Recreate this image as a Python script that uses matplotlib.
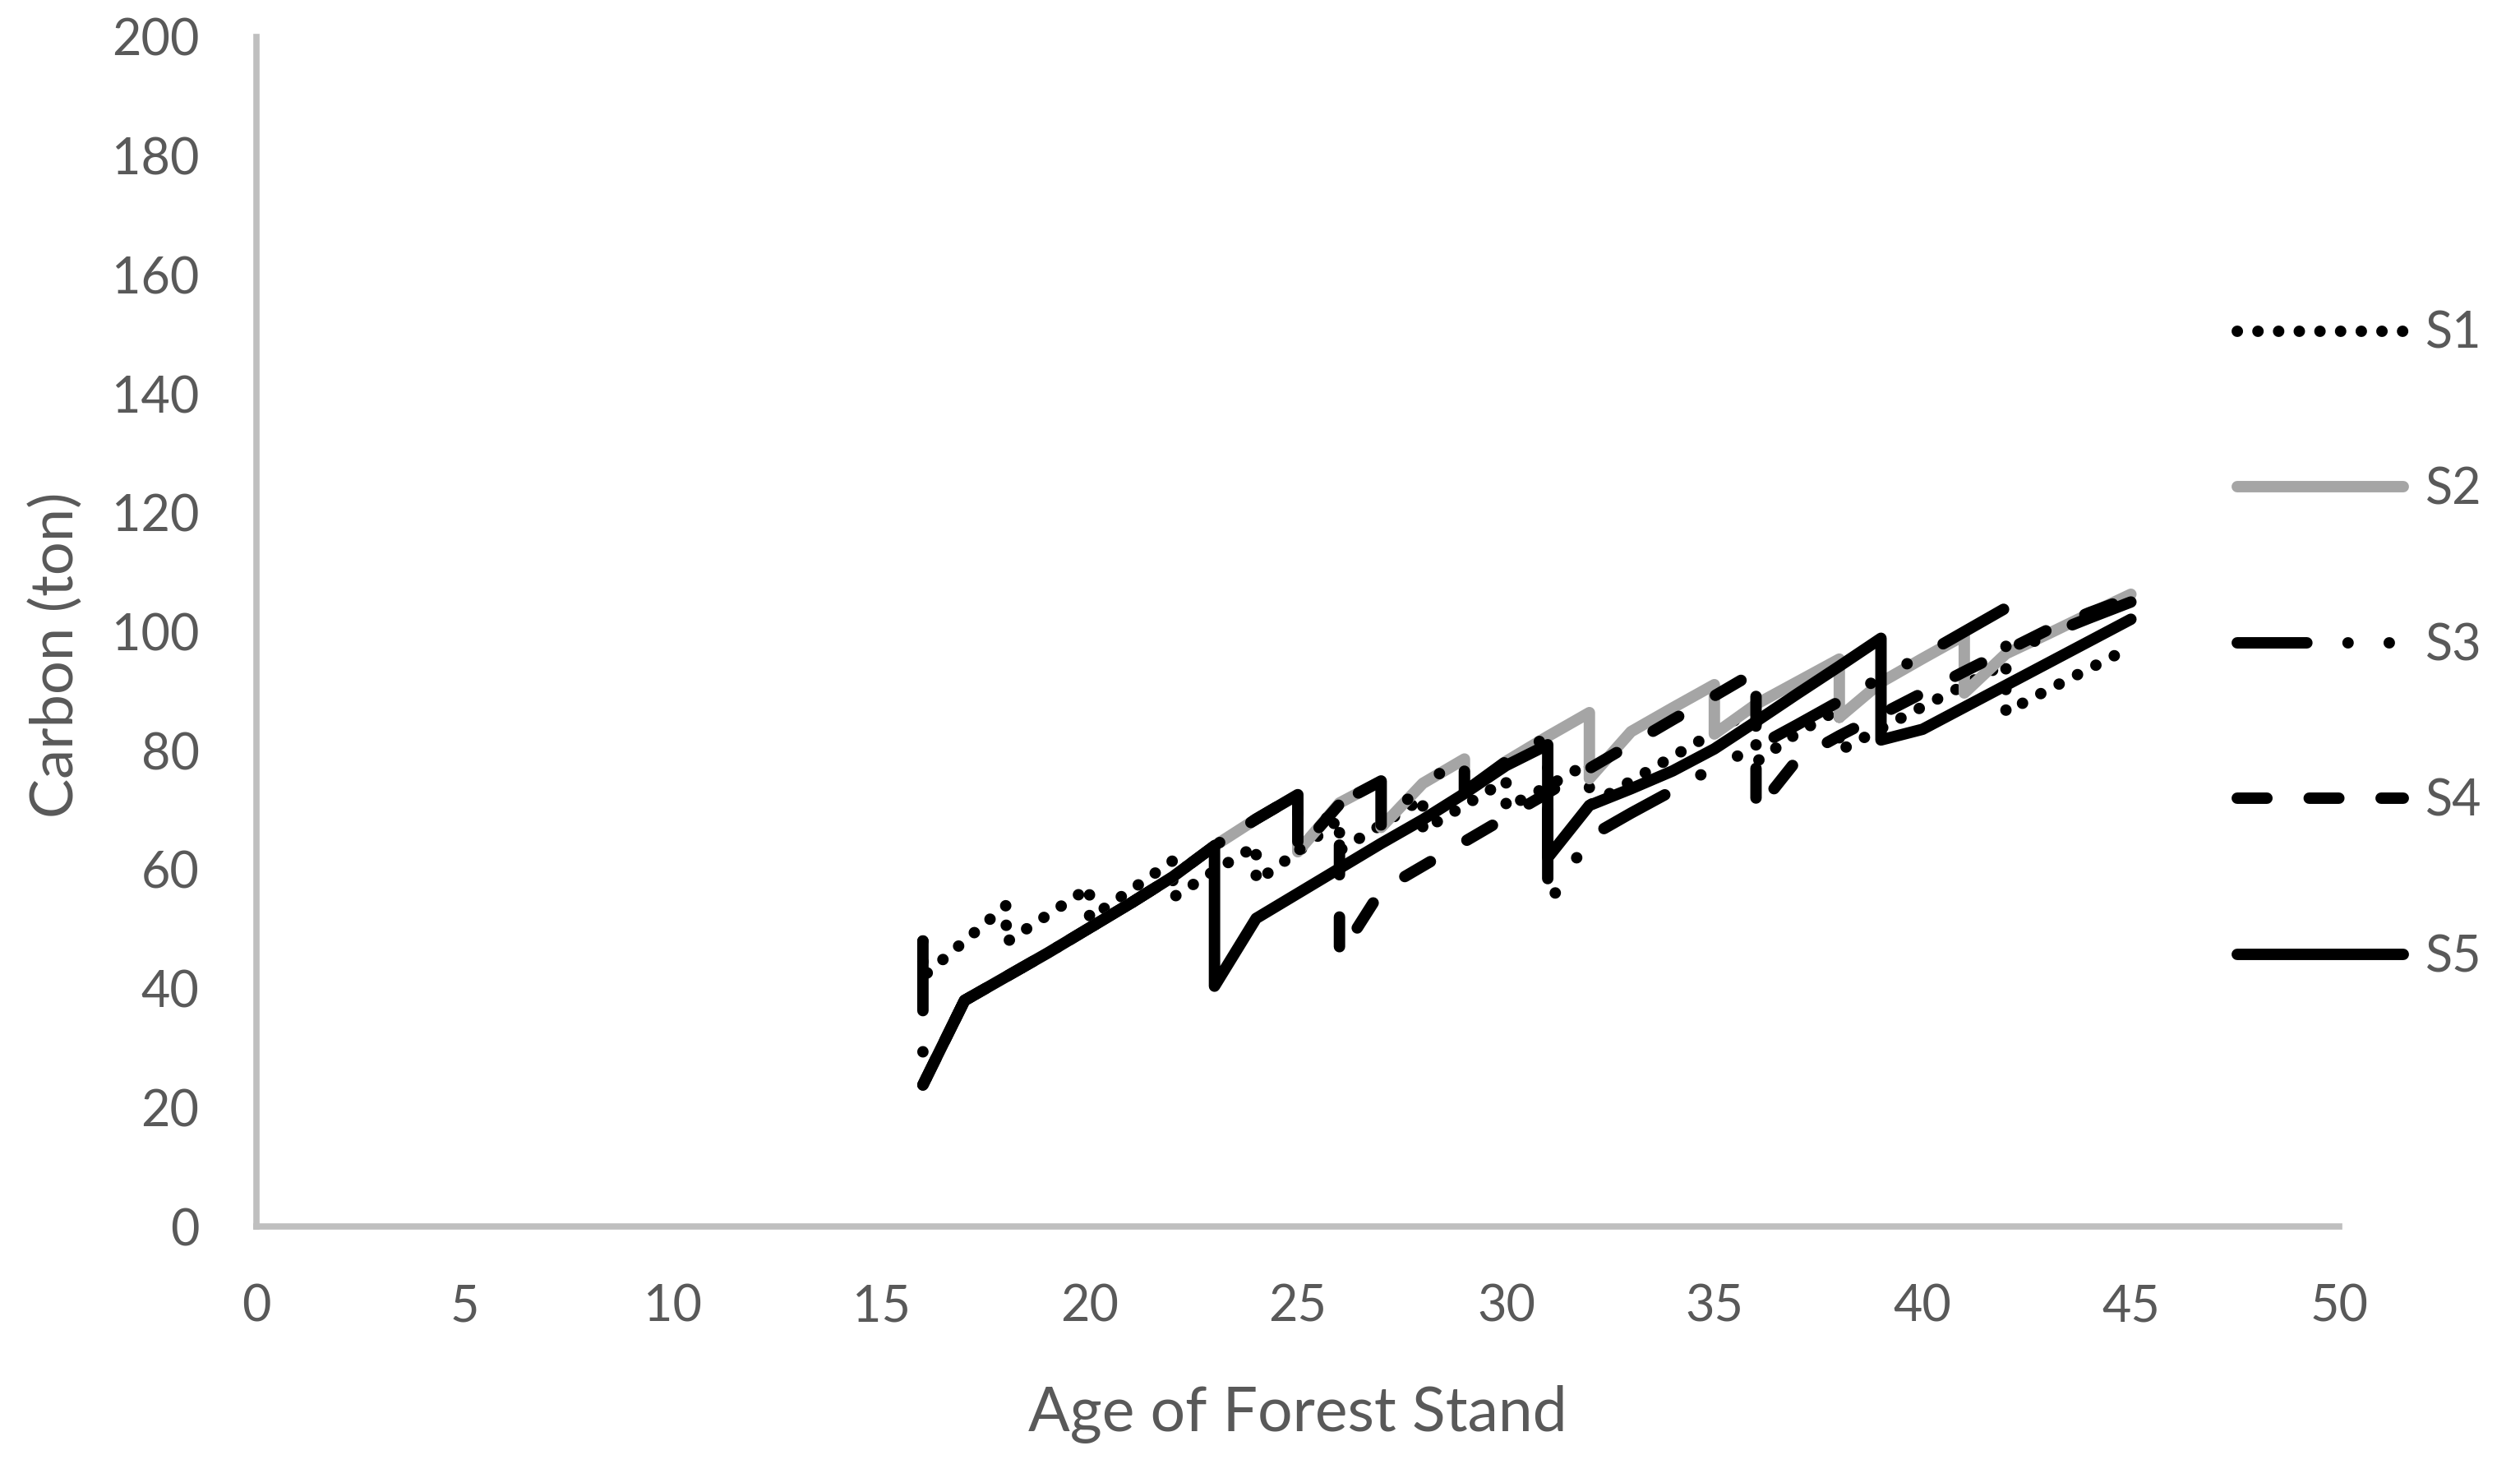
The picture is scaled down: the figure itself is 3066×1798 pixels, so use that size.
import matplotlib
matplotlib.use("Agg")
import matplotlib.pyplot as plt

plt.rcParams["font.family"] = ["Lato", "DejaVu Sans"]

# scenario series: repeated ages mark a thinning (vertical drop)
s1_age = [16, 16, 17, 18, 18, 19, 20, 20, 21, 22, 22, 23, 24, 24, 25, 26, 26, 27, 28, 28, 29, 30, 30,
          31, 32, 32, 33, 34, 35, 36, 36, 37, 38, 38, 39, 40, 41, 42, 42, 43, 44, 45]
s1_c = [48, 42, 48, 54, 47.8, 52.4, 57, 51.8, 56.6, 61.5, 55.3, 59.8, 64, 58, 63, 68.5, 63.2, 67.5, 72, 66.6,
        70.8, 75, 70.4, 74, 78, 70.8, 74.9, 79, 83.1, 87.2, 78.1, 83, 87, 80, 83.7, 87.4, 91, 94.7, 86.5,
        90.2, 93.8, 97.4]

s2_age = [16, 17, 18, 19, 20, 21, 22, 23, 24, 25, 25, 26, 27, 27, 28, 29, 29, 30, 31, 32, 32, 33, 34,
          35, 35, 36, 37, 38, 38, 39, 40, 41, 41, 42, 43, 44, 45]
s2_c = [23.8, 38, 42, 46, 50.2, 54.4, 58.8, 64, 68.5, 72.6, 63, 71.2, 74.9, 67.1, 74.5, 78.6, 73.1, 78.2,
        82.4, 86.4, 75.3, 83.2, 87.2, 91.1, 82.8, 87.8, 91.6, 95.4, 85.6, 91.5, 95.5, 99.4, 89.7, 96.3,
        99.6, 103, 106.3]

s3_age = [16, 16, 17, 18, 19, 20, 21, 22, 23, 24, 25, 25, 26, 27, 27, 28, 29, 29, 30, 31, 31, 32, 33,
          34, 35, 36, 37, 38, 39, 40, 41, 42, 42, 43, 44, 45]
s3_c = [48, 23.8, 38, 42, 46, 50.2, 54.4, 58.8, 64, 68.5, 72.6, 63, 71.2, 74.9, 67.1, 74.5, 78.6, 73.1,
        78.2, 82.4, 54, 65.5, 69.5, 73.3, 77.2, 80.6, 84.4, 88.3, 92.3, 96, 100, 104, 96, 99.5, 102.3, 105]

s4_age = [16, 17, 18, 19, 20, 21, 22, 23, 24, 25, 25, 26, 26, 27, 28, 29, 30, 31, 32, 33, 34, 35, 36,
          36, 37, 38, 39, 40, 41, 42, 43, 44, 45]
s4_c = [23.8, 38, 42, 46, 50.2, 54.4, 58.8, 64, 68.5, 72.6, 63, 71, 45.5, 56.5, 60.6, 64.7, 68.8, 72.9,
        77, 81.1, 85.2, 89.2, 93.3, 69.8, 78.6, 82.5, 86.1, 89.7, 93.3, 96.8, 100.3, 103.2, 105.8]

s5_age = [16, 17, 18, 19, 20, 21, 22, 23, 23, 24, 25, 26, 27, 28, 29, 30, 31, 31, 32, 33, 34, 35, 36,
          37, 38, 39, 39, 40, 41, 42, 43, 44, 45]
s5_c = [23.8, 38, 42, 46, 50.2, 54.4, 58.8, 64, 40.4, 51.8, 56, 60.2, 64.4, 68.4, 72.8, 77.5, 81, 62,
        70.8, 73.6, 76.6, 80.3, 84.9, 89.6, 94.2, 98.9, 81.8, 83.6, 87.3, 91, 94.7, 98.4, 102.1]

labels = ["S1", "S2", "S3", "S4", "S5"]

TXT = "#595959"
LW = 10
W, H = 3066, 1798

fig = plt.figure(figsize=(W / 100, H / 100), dpi=100)
ax = fig.add_axes([312 / W, (H - 1492) / H, (2846 - 312) / W, (1492 - 45) / H])

common = dict(lw=LW, solid_capstyle="round", dash_capstyle="round", solid_joinstyle="round",
              dash_joinstyle="round")
ax.plot(s1_age, s1_c, color="black", ls=(0, (0.01, 1.8)), label=labels[0], **common)
ax.plot(s2_age, s2_c, color="#A5A5A5", ls="-", label=labels[1], **common)
ax.plot(s3_age, s3_c, color="black", ls=(0, (6.1, 3.6, 0.01, 3.6, 0.01, 3.6)), label=labels[2], **common)
ax.plot(s4_age, s4_c, color="black", ls=(0, (2.6, 3.7)), label=labels[3], **common)
ax.plot(s5_age, s5_c, color="black", ls="-", label=labels[4], **common)

ax.set_xlim(0, 50)
ax.set_ylim(0, 200)
ax.set_xticks(range(0, 51, 5))
ax.set_yticks(range(0, 201, 20))
for s in ["top", "right"]:
    ax.spines[s].set_visible(False)
for s in ["left", "bottom"]:
    ax.spines[s].set_color("#BFBFBF")
    ax.spines[s].set_linewidth(5.5)
ax.tick_params(axis="both", length=0, labelsize=44, labelcolor=TXT)
ax.tick_params(axis="x", pad=50)
ax.tick_params(axis="y", pad=50)

fig.text(1579 / W, 1 - 1720 / H, "Age of Forest Stand", ha="center", va="center", fontsize=54, color=TXT)
fig.text(68 / W, 1 - 797 / H, "Carbon (ton)", ha="center", va="center", rotation=90, fontsize=52, color=TXT)

leg = ax.legend(loc="upper left", bbox_to_anchor=(2722 / W, 1 - 378 / H), bbox_transform=fig.transFigure,
                frameon=False, fontsize=44, handlelength=3.3, handletextpad=0.45, labelspacing=2.17,
                borderpad=0, borderaxespad=0)
for t in leg.get_texts():
    t.set_color(TXT)

fig.savefig("out.png", dpi=100)
